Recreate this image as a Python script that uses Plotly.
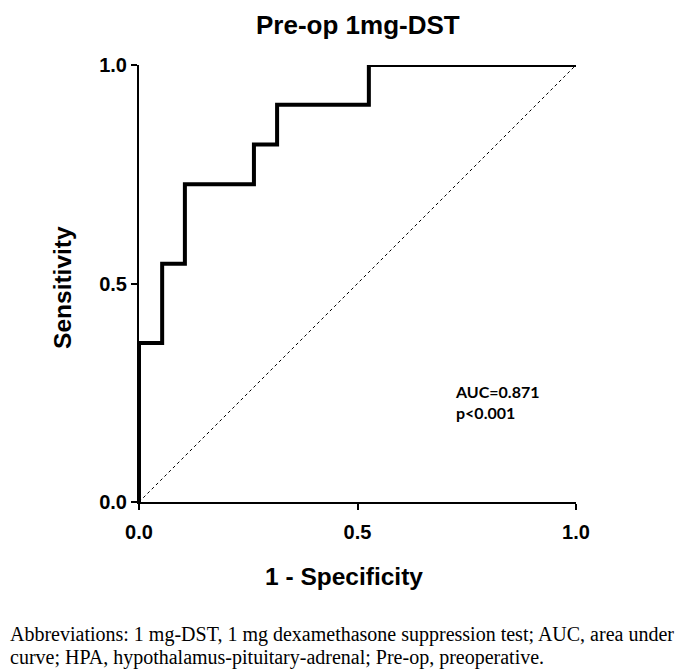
import plotly.graph_objects as go

# ROC step curve (1 - specificity, sensitivity)
fpr = [0.0, 0.0, 0.053, 0.053, 0.105, 0.105, 0.263, 0.263, 0.316, 0.316, 0.526, 0.526, 1.0]
tpr = [0.0, 0.364, 0.364, 0.545, 0.545, 0.727, 0.727, 0.818, 0.818, 0.909, 0.909, 1.0, 1.0]
ref_x = [0.0, 1.0]
ref_y = [0.0, 1.0]
tick_vals = [0.0, 0.5, 1.0]
tick_text = ["0.0", "0.5", "1.0"]

fig = go.Figure()
fig.add_trace(go.Scatter(x=ref_x, y=ref_y, mode="lines",
                         line=dict(color="black", width=1, dash="dot"),
                         cliponaxis=False, showlegend=False, hoverinfo="skip"))
fig.add_trace(go.Scatter(x=fpr, y=tpr, mode="lines",
                         line=dict(color="black", width=4),
                         cliponaxis=False, showlegend=False))

axis_common = dict(range=[0, 1], tickvals=tick_vals, ticktext=tick_text,
                   ticks="outside", ticklen=6, tickwidth=1.5, tickcolor="black",
                   showline=True, linecolor="black", linewidth=2,
                   showgrid=False, zeroline=False,
                   tickfont=dict(family="Liberation Sans", size=20, color="black", weight="bold"))

fig.update_layout(
    width=685, height=670,
    margin=dict(l=131, r=117, t=57, b=176),
    paper_bgcolor="white", plot_bgcolor="white",
    xaxis=dict(**axis_common, ticklabelstandoff=5),
    yaxis=dict(**axis_common),
)

ann = dict(xref="paper", yref="paper", showarrow=False)
fig.add_annotation(text="<b>Pre-op 1mg-DST</b>", x=0.5006, y=1.128, xanchor="center", yanchor="top",
                   borderpad=0,
                   font=dict(family="Liberation Sans", size=26, color="black"), **ann)
fig.add_annotation(text="<b>1 - Specificity</b>", x=0.4696, y=-0.1716, xanchor="center", yanchor="middle",
                   font=dict(family="Liberation Sans", size=24.5, color="black"), **ann)
fig.add_annotation(text="<b>Sensitivity</b>", x=-0.1741, y=0.492, xanchor="center", yanchor="middle",
                   textangle=-90,
                   font=dict(family="Liberation Sans", size=24.5, color="black"), **ann)

fig.add_annotation(text="<b>AUC=0.871<br>p&lt;0.001</b>", x=0.7193, y=0.2288, xanchor="left", yanchor="middle",
                   align="left",
                   font=dict(family="Lato", size=16, color="black"), **ann)

cap_font = dict(family="Liberation Serif", size=20, color="black")
fig.add_annotation(text="Abbreviations: 1 mg-DST, 1 mg dexamethasone suppression test; AUC, area under",
                   x=-0.3, y=-0.3043, xanchor="left", yanchor="middle", font=cap_font, **ann)
fig.add_annotation(text="curve; HPA, hypothalamus-pituitary-adrenal; Pre-op, preoperative.",
                   x=-0.3, y=-0.3547, xanchor="left", yanchor="middle", font=cap_font, **ann)

fig.write_html("out.html")
